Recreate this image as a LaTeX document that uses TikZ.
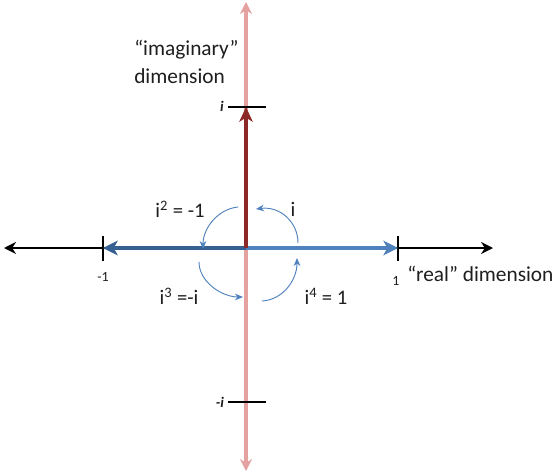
\documentclass[tikz,border=0pt]{standalone}
\usepackage{fontspec}
\setmainfont{Carlito}
\usetikzlibrary{arrows.meta}
\definecolor{pinkax}{RGB}{229,160,160}
\definecolor{darkred}{RGB}{140,40,40}
\definecolor{blueax}{RGB}{79,129,189}
\definecolor{darkblue}{RGB}{55,96,146}
\definecolor{txt}{RGB}{30,30,30}
\tikzset{
  lbl/.style={font=\fontsize{16}{18}\selectfont, text=txt, inner sep=0pt},
  qlbl/.style={font=\fontsize{15.5}{18}\selectfont, text=txt, inner sep=0pt},
  small/.style={font=\fontsize{10.5}{12}\selectfont, text=txt, inner sep=0pt},
  tick/.style={line width=1.8pt, black},
  turn/.style={blueax, line width=0.7pt, -{Stealth[length=6pt,width=5pt]}},
}
\begin{document}
\begin{tikzpicture}[x=0.75pt,y=-0.75pt]
\useasboundingbox (0,0) rectangle (555,474);
% coordinates
\coordinate (O) at (246,248);
\coordinate (top) at (246,2);
\coordinate (bot) at (246,471);
\coordinate (left) at (4,248);
\coordinate (right) at (493,248);
\coordinate (im) at (246,107);
\coordinate (mim) at (246,402);
\coordinate (re) at (398,248);
\coordinate (mre) at (103,248);
% vertical axis
\draw[pinkax, line width=2.4pt, {Stealth[length=9pt,width=9pt]}-{Stealth[length=9pt,width=9pt]}] (bot) -- (top);
% horizontal axis
\draw[black, line width=1.6pt, {Stealth[length=9pt,width=9pt]}-{Stealth[length=9pt,width=9pt]}] (left) -- (right);
% ticks
\draw[tick] ([yshift=9pt]mre) -- ([yshift=-10pt]mre);
\draw[tick] ([yshift=9pt]re) -- ([yshift=-10pt]re);
\draw[tick] ([xshift=-13.5pt]im) -- ([xshift=15pt]im);
\draw[tick] ([xshift=-13.5pt]mim) -- ([xshift=15pt]mim);
% blue arrows
\draw[blueax, line width=3pt, -{Stealth[length=11pt,width=11pt,inset=3pt]}] (O) -- (re);
\draw[darkblue, line width=3pt, -{Stealth[length=11pt,width=11pt,inset=3pt]}] (O) -- (mre);
% dark red arrow
\draw[darkred, line width=2.4pt, -{Stealth[length=11pt,width=10pt,inset=3pt]}] (O) -- (im);
% curved arrows
\coordinate (a1s) at (298,243); \coordinate (a1e) at (256,209);
\coordinate (a2s) at (238,207); \coordinate (a2e) at (203,249);
\coordinate (a3s) at (199,262); \coordinate (a3e) at (243,297);
\coordinate (a4s) at (262,301); \coordinate (a4e) at (297,258);
\draw[turn] (a1s) .. controls (298,222) and (280,206) .. (a1e);
\draw[turn] (a2s) .. controls (218,209) and (203,228) .. (a2e);
\draw[turn] (a3s) .. controls (199,282) and (222,297) .. (a3e);
\draw[turn] (a4s) .. controls (282,300) and (297,281) .. (a4e);
% labels
\node[lbl, anchor=west] (imag1) at (134,50) {“imaginary”};
\node[lbl, anchor=west] (imag2) at (134,76) {dimension};
\node[font=\fontsize{11}{12}\selectfont\bfseries\itshape, text=txt, inner sep=0pt] (ilbl) at (222,106) {i};
\node[font=\fontsize{11}{12}\selectfont\bfseries\itshape, text=txt, inner sep=0pt] (milbl) at (220,402) {-i};
\node[small] (m1) at (103,277) {-1};
\node[small] (p1) at (396,281) {1};
\node[lbl, anchor=west] (real) at (407,274) {“real” dimension};
\node[qlbl] (q2) at (180,209) {i\textsuperscript{2} = -1};
\node[qlbl] (q1) at (293,209) {i};
\node[qlbl] (q3) at (179,296) {i\textsuperscript{3} =-i};
\node[qlbl] (q4) at (326,296) {i\textsuperscript{4} = 1};
\end{tikzpicture}
\end{document}
